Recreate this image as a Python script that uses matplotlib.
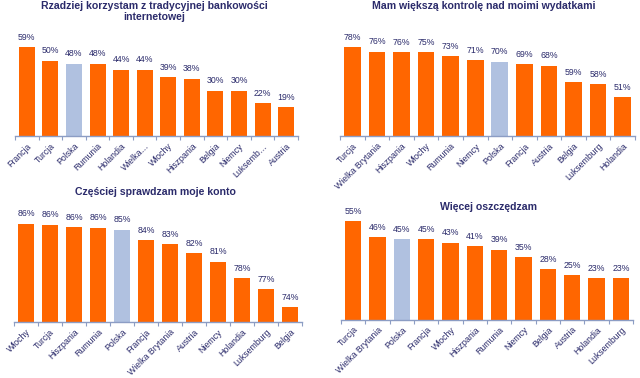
import matplotlib
matplotlib.use("Agg")
import matplotlib.pyplot as plt

plt.rcParams['font.family'] = ['Liberation Sans', 'DejaVu Sans']

ORANGE = '#FF6600'
BLUE = '#B0C1E0'
NAVY = '#2B2B6B'
AXIS = '#8C9DC4'

# Panel 1
t1 = ["Rzadziej korzystam z tradycyjnej bankowości", "internetowej"]
c1 = ["Francja", "Turcja", "Polska", "Rumunia", "Holandia", "Wielka…", "Włochy",
      "Hiszpania", "Belgia", "Niemcy", "Luksemb…", "Austria"]
v1 = [59, 50, 48, 48, 44, 44, 39, 38, 30, 30, 22, 19]

# Panel 2
t2 = ["Mam większą kontrolę nad moimi wydatkami"]
c2 = ["Turcja", "Wielka Brytania", "Hiszpania", "Włochy", "Rumunia", "Niemcy",
      "Polska", "Francja", "Austria", "Belgia", "Luksemburg", "Holandia"]
v2 = [78, 76, 76, 75, 73, 71, 70, 69, 68, 59, 58, 51]
h2 = [78.0, 75.6, 75.3, 75.2, 73.0, 71.0, 70.2, 69.0, 68.0, 59.2, 58.2, 51.0]

# Panel 3
t3 = ["Częściej sprawdzam moje konto"]
c3 = ["Włochy", "Turcja", "Hiszpania", "Rumunia", "Polska", "Francja",
      "Wielka Brytania", "Austria", "Niemcy", "Holandia", "Luksemburg", "Belgia"]
v3 = [86, 86, 86, 86, 85, 84, 83, 82, 81, 78, 77, 74]
h3 = [86.25, 86.1, 85.8, 85.67, 85.4, 83.9, 83.26, 81.96, 80.74, 78.4, 76.74, 74.2]

# Panel 4
t4 = ["Więcej oszczędzam"]
c4 = ["Turcja", "Wielka Brytania", "Polska", "Francja", "Włochy", "Hiszpania",
      "Rumunia", "Niemcy", "Belgia", "Austria", "Holandia", "Luksemburg"]
v4 = [55, 46, 45, 45, 43, 41, 39, 35, 28, 25, 23, 23]

W, H = 640, 378
fig = plt.figure(figsize=(W / 100, H / 100), dpi=100)


def px_axes(x0, x1, ybot, ytop):
    return fig.add_axes([x0 / W, (H - ybot) / H, (x1 - x0) / W, (ybot - ytop) / H])


def panel(ax, cats, vals, ylim, heights):
    n = len(cats)
    xs = list(range(n))
    colors = [BLUE if c == "Polska" else ORANGE for c in cats]
    ax.bar(xs, heights, width=0.68, color=colors, bottom=0)
    ax.set_xlim(-0.5, n - 0.5)
    ax.set_ylim(*ylim)
    for x, h, v in zip(xs, heights, vals):
        ax.annotate(f"{v}%", (x, h), xytext=(0, 7), textcoords='offset points',
                    ha='center', va='center', fontsize=6.3, color=NAVY)
    for s in ['top', 'right', 'left']:
        ax.spines[s].set_visible(False)
    ax.spines['bottom'].set_color(AXIS)
    ax.spines['bottom'].set_linewidth(1.0)
    ax.set_yticks([])
    ax.set_xticks([i - 0.5 for i in range(n + 1)], minor=False)
    ax.set_xticklabels([])
    ax.tick_params(axis='x', which='major', length=3, color=AXIS, width=0.8)
    ax.set_xticks(xs, minor=True)
    ax.set_xticklabels(cats, minor=True, rotation=45, ha='right',
                       rotation_mode='anchor', fontsize=6.3, color=NAVY)
    ax.tick_params(axis='x', which='minor', length=0, pad=4)
    ax.patch.set_alpha(0)


ax1 = px_axes(15, 298, 136, 30)
panel(ax1, c1, v1, (0, 106 / 1.51), v1)

ax2 = px_axes(340, 635, 136, 30)
panel(ax2, c2, v2, (30, 30 + 106 / 1.85), h2)

ax3 = px_axes(14, 302, 322, 215)
panel(ax3, c3, v3, (72, 72 + 107 / 6.9), h3)

ax4 = px_axes(341, 633, 319.5, 215)
panel(ax4, c4, v4, (0, 104.5 / 1.79), v4)

tk = dict(ha='center', va='center', fontsize=7.6, fontweight='bold', color=NAVY)
fig.text(154 / W, 1 - 5.7 / H, t1[0], **tk)
fig.text(154 / W, 1 - 17 / H, t1[1], **tk)
fig.text(484 / W, 1 - 6 / H, t2[0], **tk)
fig.text(155.5 / W, 1 - 192 / H, t3[0], **tk)
fig.text(488 / W, 1 - 207 / H, t4[0], **tk)

fig.savefig("out.png", dpi=100, facecolor='white')
